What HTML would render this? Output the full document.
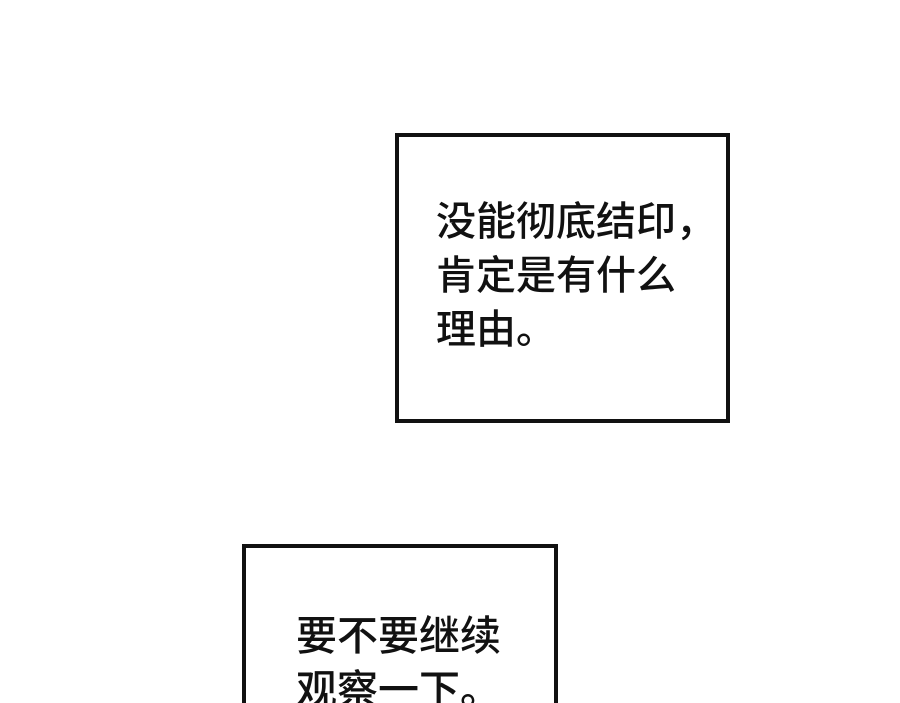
<!DOCTYPE html>
<html><head><meta charset="utf-8"><style>
html,body{margin:0;padding:0;width:900px;height:703px;overflow:hidden;background:#fff;}
#w{position:relative;width:900px;height:703px;overflow:hidden;}
.box{position:absolute;border:4px solid #111;box-sizing:border-box;background:#fff;}
.t{position:absolute;font-family:"Liberation Sans","Noto Sans CJK SC",sans-serif;font-weight:500;color:#111;white-space:nowrap;}
</style></head><body><div id="w">
<div class="box" style="left:395px;top:133px;width:335px;height:290px;"></div>
<div class="t" style="left:436px;top:195px;font-size:40px;line-height:54px;">没能彻底结印，<br>肯定是有什么<br>理由。</div>
<div class="box" style="left:242px;top:544px;width:316px;height:180px;"></div>
<div class="t" style="left:296px;top:609px;font-size:41px;line-height:54px;">要不要继续<br>观察一下。</div>
</div></body></html>
